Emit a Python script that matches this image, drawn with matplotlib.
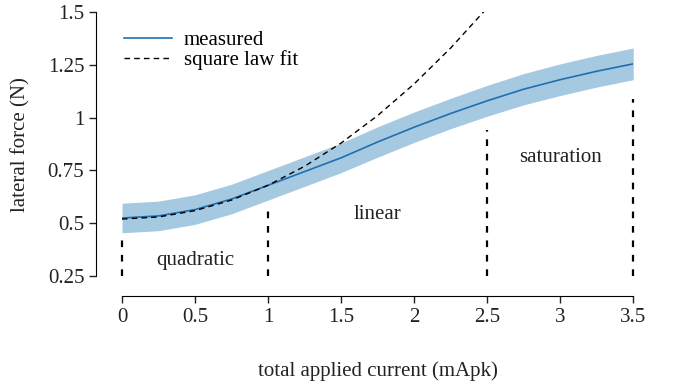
import matplotlib.pyplot as plt

plt.rcParams['font.family'] = ['Liberation Serif', 'DejaVu Serif']

# measured force vs current
current = [0, 0.25, 0.5, 0.75, 1.0, 1.25, 1.5, 1.75, 2.0, 2.25, 2.5, 2.75, 3.0, 3.25, 3.5]
force = [0.525, 0.535, 0.565, 0.615, 0.68, 0.745, 0.81, 0.885, 0.955, 1.02,
         1.08, 1.135, 1.18, 1.22, 1.255]
spread = [0.07, 0.07, 0.07, 0.07, 0.07, 0.07, 0.07, 0.072, 0.072, 0.072,
          0.073, 0.074, 0.075, 0.075, 0.075]

# square law fit curve
fit_current = [0, 0.25, 0.5, 0.75, 1.0, 1.25, 1.5, 1.75, 2.0, 2.25, 2.5]
fit_force = [0.52, 0.53, 0.56, 0.61, 0.68, 0.77, 0.88, 1.01, 1.16, 1.33, 1.52]

# region boundaries and labels
bound_x = [0, 1, 2.5, 3.5]
bound_top = [0.42, 0.56, 0.94, 1.09]
regions = ['quadratic', 'linear', 'saturation']
region_x = [0.5, 1.75, 3.0]
region_y = [0.325, 0.54, 0.81]

FS = 15
TXT = '#222222'

fig = plt.figure(figsize=(6.78, 3.84), dpi=100)
ax = fig.add_axes([0.180, 0.281, 0.754, 0.6875])

lower = [f - s for f, s in zip(force, spread)]
upper = [f + s for f, s in zip(force, spread)]
ax.fill_between(current, lower, upper, color='#a6c9e2', lw=0)
ax.plot(current, force, color='#1f6fb0', lw=1.2, label='measured')
ax.plot(fit_current, fit_force, color='black', lw=1.0, ls=(0, (4, 3)),
        label='square law fit')

for bx, bt in zip(bound_x, bound_top):
    ax.plot([bx, bx], [0.25, bt], color='black', lw=1.6, ls=(0, (3, 3.5)),
            clip_on=False)

for name, rx, ry in zip(regions, region_x, region_y):
    ax.text(rx, ry, name, ha='center', va='center', fontsize=FS, color=TXT)

ax.set_xlim(0, 3.5)
ax.set_ylim(0.25, 1.5)
ax.set_xticks([0, 0.5, 1, 1.5, 2, 2.5, 3, 3.5])
ax.set_xticklabels(['0', '0.5', '1', '1.5', '2', '2.5', '3', '3.5'])
ax.set_yticks([0.25, 0.5, 0.75, 1, 1.25, 1.5])
ax.set_yticklabels(['0.25', '0.5', '0.75', '1', '1.25', '1.5'])

for side in ['top', 'right']:
    ax.spines[side].set_visible(False)
ax.spines['left'].set_position(('outward', 18.7))
ax.spines['bottom'].set_position(('outward', 14.4))
ax.tick_params(direction='out', length=5, width=1, labelsize=FS, colors=TXT)

ax.set_xlabel('total applied current (mApk)', fontsize=FS, color=TXT,
              labelpad=25)
ax.set_ylabel('lateral force (N)', fontsize=FS, color=TXT, labelpad=12)

ax.legend(loc='upper left', bbox_to_anchor=(-0.032, 1.0), frameon=False,
          fontsize=FS, handlelength=2.3, handletextpad=0.55, labelspacing=0.0)

fig.savefig('out.png', dpi=100)
